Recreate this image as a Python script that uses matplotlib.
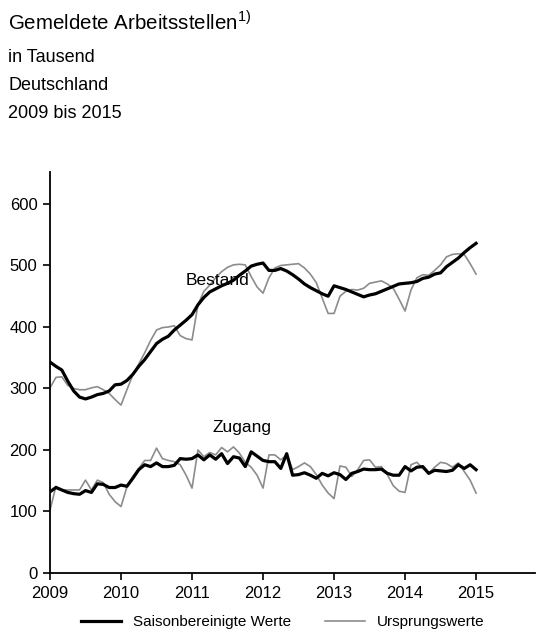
import matplotlib

matplotlib.use("Agg")
import matplotlib.pyplot as plt
import numpy as np

plt.rcParams["font.family"] = ["Liberation Sans", "DejaVu Sans"]
plt.rcParams["mathtext.fontset"] = "custom"
plt.rcParams["mathtext.rm"] = "Liberation Sans"

# monthly values, Jan 2009 .. Jan 2015 (in thousand)
bestand_sa = [
    343, 336, 330, 312, 296, 286, 283, 286, 290, 292, 296, 306,
    307, 313, 323, 336, 347, 360, 373, 380, 385, 395, 403, 411,
    420, 436, 448, 457, 462, 467, 471, 476, 484, 491, 499, 502,
    504, 492, 492, 495, 491, 485, 478, 470, 464, 459, 454, 450,
    467, 464, 461, 457, 453, 449, 452, 454, 458, 462, 466, 470,
    471, 472, 474, 479, 481, 486, 488, 498, 505, 512, 521, 529,
    536,
]
bestand_orig = [
    301, 318, 319, 305, 300, 298, 298, 301, 303, 298, 292, 282,
    273, 298, 322, 340, 358, 378, 395, 399, 400, 402, 386, 381,
    379, 436, 458, 468, 480, 490, 497, 501, 502, 501, 482, 465,
    455, 480, 496, 500, 501, 502, 503, 496, 486, 472, 447, 422,
    422, 450, 458, 461, 460, 463, 471, 473, 475, 470, 463, 445,
    426, 460, 480, 485, 484, 492, 501, 514, 518, 519, 518, 503,
    486,
]
zugang_sa = [
    132, 139, 135, 131, 129, 128, 134, 131, 145, 144, 139, 139,
    143, 141, 154, 168, 176, 173, 179, 173, 173, 175, 186, 185,
    186, 192, 184, 192, 185, 194, 178, 189, 187, 173, 197, 190,
    183, 181, 181, 170, 194, 159, 160, 163, 159, 154, 162, 158,
    163, 160, 152, 162, 165, 169, 168, 168, 169, 162, 159, 159,
    173, 166, 172, 173, 162, 167, 166, 165, 167, 176, 170, 176,
    168,
]
zugang_orig = [
    102, 141, 135, 135, 135, 135, 151, 135, 151, 147, 128, 116,
    108, 140, 157, 170, 183, 183, 203, 186, 183, 181, 176, 159,
    138, 200, 189, 196, 192, 204, 197, 205, 195, 180, 172, 159,
    138, 192, 192, 184, 192, 168, 173, 179, 173, 160, 143, 130,
    121, 174, 172, 157, 168, 183, 184, 172, 173, 160, 142, 133,
    131, 176, 180, 170, 162, 172, 180, 178, 172, 179, 165, 151,
    130,
]
years = [2009, 2010, 2011, 2012, 2013, 2014, 2015]
y_ticks = [0, 100, 200, 300, 400, 500, 600]

t = 2009 + np.arange(len(bestand_sa)) / 12

fig = plt.figure(figsize=(5.36, 6.32), dpi=100)
ax = fig.add_axes([50 / 536, 1 - 573 / 632, 485 / 536, 401 / 632])

black = "#000000"
grey = "#8c8c8c"

ax.plot(t, bestand_orig, color=grey, lw=1.2, label="Ursprungswerte", zorder=2)
ax.plot(t, zugang_orig, color=grey, lw=1.2, zorder=2)
ax.plot(t, bestand_sa, color=black, lw=2.3, label="Saisonbereinigte Werte", zorder=3)
ax.plot(t, zugang_sa, color=black, lw=2.3, zorder=3)

ax.text(2011.36, 476, "Bestand", ha="center", va="center", fontsize=12.5)
ax.text(2011.70, 237, "Zugang", ha="center", va="center", fontsize=12.5)

ax.set_xlim(2009, 2015.83)
ax.set_ylim(0, 652)
ax.set_xticks(years)
ax.set_xticklabels([str(y) for y in years])
ax.set_yticks(y_ticks)
ax.tick_params(axis="both", labelsize=12, length=5, width=1.2, direction="out", pad=4)
for side in ("top", "right"):
    ax.spines[side].set_visible(False)
for side in ("left", "bottom"):
    ax.spines[side].set_linewidth(1.3)

fig.text(8 / 536, 1 - 22 / 632, "Gemeldete Arbeitsstellen$^{\\mathrm{1)}}$",
         fontsize=14.8, va="center", ha="left")
fig.text(8 / 536, 1 - 58 / 632, "in Tausend", fontsize=13, va="center")
fig.text(8 / 536, 1 - 86 / 632, "Deutschland", fontsize=13, va="center")
fig.text(8 / 536, 1 - 114 / 632, "2009 bis 2015", fontsize=13, va="center")

handles, labels = ax.get_legend_handles_labels()
fig.legend(handles[::-1], labels[::-1], loc="center", ncol=2,
           bbox_to_anchor=(283 / 536, 1 - 622 / 632), frameon=False,
           fontsize=11, handlelength=2.6, handletextpad=0.8, columnspacing=2.2)

fig.savefig("out.png", dpi=100)
